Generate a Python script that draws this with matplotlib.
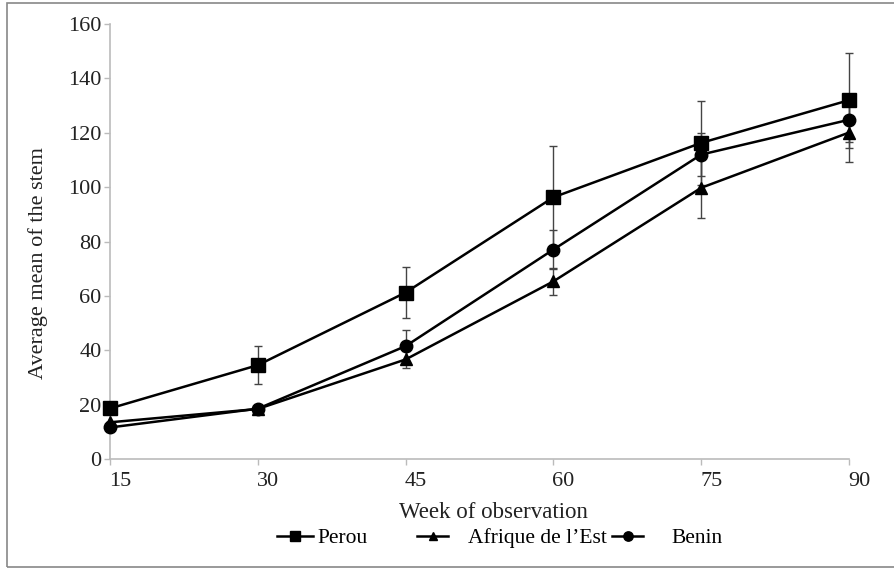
import matplotlib
matplotlib.use("Agg")
import matplotlib.pyplot as plt
from matplotlib.patches import Rectangle
import matplotlib.transforms as mtransforms

weeks = [15, 30, 45, 60, 75, 90]
perou = [18.7, 34.6, 61.3, 96.3, 116.3, 132.0]
perou_err = [0, 7.0, 9.5, 18.8, 15.5, 17.5]
afrique = [13.6, 18.5, 36.7, 65.4, 99.8, 120.1]
afrique_err = [0, 0, 3.0, 5.0, 11.0, 11.0]
benin = [11.7, 18.6, 41.6, 77.1, 112.0, 124.8]
benin_err = [0, 0, 6.0, 7.3, 8.0, 8.0]
yticks = [0, 20, 40, 60, 80, 100, 120, 140, 160]

plt.rcParams['font.family'] = ['Liberation Serif', 'DejaVu Serif']

W, H = 894, 568
fig = plt.figure(figsize=(W/100, H/100), dpi=100)
fig.patches.append(Rectangle((7/W, 1-567/H), 1.0, (567-3)/H,
                             transform=fig.transFigure, fill=False,
                             edgecolor='#888888', linewidth=1.2))
ax = fig.add_axes([110/W, 1-459.3/H, (849-110)/W, (459.3-24)/H])

series = [
    (perou, perou_err, 's', 'Perou', 9.5),
    (afrique, afrique_err, '^', "Afrique de l\u2019Est", 8.5),
    (benin, benin_err, 'o', 'Benin', 9),
]
lines = []
for vals, err, mk, lab, ms in series:
    ax.errorbar(weeks, vals, yerr=err, fmt='none', ecolor='#444444',
                elinewidth=1.0, capsize=3, capthick=1.0, clip_on=False, zorder=2)
    ln, = ax.plot(weeks, vals, color='black', marker=mk, markersize=ms, linewidth=1.8,
                  label=lab, clip_on=False, zorder=3)
    lines.append(ln)

ax.set_xlim(15, 90)
ax.set_ylim(0, 160)
ax.set_xticks(weeks)
ax.set_yticks(yticks)
for s in ['top', 'right']:
    ax.spines[s].set_visible(False)
for s in ['left', 'bottom']:
    ax.spines[s].set_color('#bbbbbb')
    ax.spines[s].set_linewidth(1.2)
ax.tick_params(axis='both', colors='#bbbbbb', labelcolor='#222222',
               labelsize=16, length=4, width=1.0)
ax.tick_params(axis='y', pad=2)
ax.tick_params(axis='x', pad=5)
offset = mtransforms.ScaledTranslation(10/100, 0, fig.dpi_scale_trans)
for lbl in ax.get_xticklabels():
    lbl.set_transform(lbl.get_transform() + offset)

ax.set_xlabel('Week of observation', fontsize=16.5, color='#222222')
ax.xaxis.set_label_coords((493-110)/739, (459.3-512)/435.3)
ax.xaxis.label.set_va('center')
ax.set_ylabel('Average mean of the stem', fontsize=16, color='#222222')
ax.yaxis.set_label_coords((38-110)/739, (459.3-263)/435.3)
ax.yaxis.label.set_va('center')

# legend entries placed individually (handle start x, handle length, text pad)
legend_specs = [(277, 1.67, 0.2), (417, 1.45, 0.93), (612, 1.45, 1.3)]
for ln, (x0, hl, tp) in zip(lines, legend_specs):
    leg = fig.legend(handles=[ln], loc='center left',
                     bbox_to_anchor=(x0/W, 1-538/H), frameon=False,
                     fontsize=15.5, handlelength=hl, handletextpad=tp,
                     markerscale=0.75, borderpad=0, borderaxespad=0)

fig.savefig('out.png', dpi=100)
